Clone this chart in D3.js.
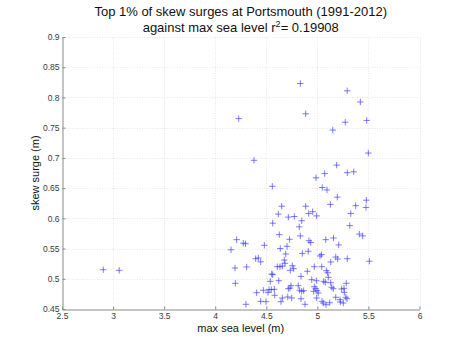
<!DOCTYPE html>
<html><head><meta charset="utf-8">
<script src="https://cdn.jsdelivr.net/npm/d3@7"></script>
<style>body{margin:0;background:#fff}svg{display:block}text{font-family:"Liberation Sans",Arial,sans-serif}</style>
</head><body><div id="c"></div>
<script>
const titleLine1 = "Top 1% of skew surges at Portsmouth (1991-2012)";
const titleLine2 = "against max sea level r";
const rSquared = "0.19908";
const xLabel = "max sea level (m)";
const yLabel = "skew surge (m)";
const xTicks = [2.5, 3, 3.5, 4, 4.5, 5, 5.5, 6];
const yTicks = [0.45, 0.5, 0.55, 0.6, 0.65, 0.7, 0.75, 0.8, 0.85, 0.9];
const seaLevel = [
2.904,3.06,
4.833,5.292,5.421,4.230,4.886,5.273,5.483,5.151,5.499,4.380,5.189,
5.072,5.293,5.356,4.987,4.559,5.048,5.094,5.195,5.479,5.476,5.375,5.127,4.886,4.651,
4.618,4.716,4.774,4.915,4.954,4.993,5.327,4.847,4.563,4.823,5.317,4.627,4.833,5.411,
5.444,4.210,4.275,4.297,4.727,4.918,4.935,5.082,5.158,5.209,
4.155,4.481,4.637,4.703,4.690,4.853,4.911,5.026,5.040,5.180,5.199,5.293,5.131,5.509,
4.396,4.422,4.445,4.676,4.683,4.194,4.308,4.608,4.634,4.657,4.755,4.768,4.735,4.902,
4.970,5.043,5.088,5.101,4.553,4.563,4.840,5.107,4.197,4.539,4.622,4.945,4.990,5.062,
5.078,5.283,4.742,4.732,4.716,4.813,4.827,4.970,4.984,4.997,4.964,5.131,5.141,5.156,
5.238,5.261,5.264,4.847,4.866,5.009,4.710,4.749,4.840,4.993,5.046,5.058,5.180,5.222,
5.225,5.278,5.290,4.879,5.085,5.121,5.254,
4.406,4.471,4.527,4.549,4.579,4.583,4.517,4.657,4.445,4.497,4.644,4.301
];
const skewSurge = [
0.515,0.514,
0.823,0.811,0.7925,0.765,0.773,0.759,0.762,0.746,0.708,0.696,0.688,
0.674,0.6755,0.677,0.667,0.653,0.651,0.647,0.635,0.630,0.618,0.621,0.623,0.620,0.620,
0.607,0.602,0.603,0.608,0.611,0.604,0.608,0.596,0.592,0.586,0.588,0.573,0.571,0.574,
0.571,0.5647,0.559,0.558,0.5653,0.563,0.560,0.5647,0.5675,0.556,
0.548,0.5554,0.550,0.5537,0.541,0.542,0.5455,0.5377,0.540,0.536,0.5327,0.5332,0.5278,0.529,
0.5332,0.5344,0.528,0.531,0.5256,0.5178,0.5195,0.520,0.520,0.521,0.5216,0.5167,0.514,0.5124,
0.520,0.520,0.5134,0.510,0.5079,0.5068,0.504,0.5024,0.4925,0.4958,0.4968,0.4985,0.4968,0.4958,
0.4942,0.4925,0.4886,0.4847,0.4836,0.4886,0.481,0.4869,0.4836,0.4803,0.4793,0.4935,0.4859,0.4836,
0.4831,0.4842,0.4776,0.4793,0.4803,0.4765,0.4699,0.4682,0.467,0.4682,0.4627,0.4599,0.4694,0.4654,
0.4616,0.4694,0.467,0.4578,0.4571,0.4604,0.4599,
0.477,0.481,0.482,0.482,0.4826,0.4727,0.4776,0.4682,0.4627,0.4621,0.4621,0.4578
];

const W = 465, H = 350;
const m = {left: 62, right: 45.5, top: 37, bottom: 41};
const svg = d3.select("#c").append("svg").attr("width", W).attr("height", H);
const x = d3.scaleLinear().domain([2.5, 6]).range([m.left, W - m.right]);
const y = d3.scaleLinear().domain([0.45, 0.9]).range([H - m.bottom, m.top]);

// grid
const grid = svg.append("g").attr("stroke", "#dcdcdc").attr("stroke-width", 0.7).attr("stroke-dasharray", "1,1.5");
grid.selectAll(".gx").data(xTicks.slice(1)).enter().append("line")
  .attr("x1", d => Math.round(x(d)) + 0.5).attr("x2", d => Math.round(x(d)) + 0.5)
  .attr("y1", y(0.45)).attr("y2", y(0.9));
grid.selectAll(".gy").data(yTicks.slice(1)).enter().append("line")
  .attr("y1", d => Math.round(y(d)) + 0.5).attr("y2", d => Math.round(y(d)) + 0.5)
  .attr("x1", x(2.5)).attr("x2", x(6));

// axes
const fmt = d => String(d);
const xAxis = d3.axisBottom(x).tickValues(xTicks).tickFormat(fmt).tickSizeInner(-3).tickSizeOuter(0).tickPadding(3.5);
const yAxis = d3.axisLeft(y).tickValues(yTicks).tickFormat(fmt).tickSizeInner(-3).tickSizeOuter(0).tickPadding(3);
const gx = svg.append("g").attr("transform", `translate(0,${Math.round(y(0.45)) + 0.5})`).call(xAxis);
const gy = svg.append("g").attr("transform", `translate(${Math.round(x(2.5)) + 0.5},0)`).call(yAxis);
[gx, gy].forEach(g => {
  g.select(".domain").attr("stroke", "#8a8a8a");
  g.selectAll(".tick line").attr("stroke", "#8a8a8a");
  g.selectAll(".tick text").attr("fill", "#3a3a3a").style("font-size", "8.5px").style("font-family", '"Liberation Sans",Arial,sans-serif');
});

// points
const pts = seaLevel.map((v, i) => [v, skewSurge[i]]);
const s = 3.2;
svg.append("g").attr("stroke", "#3b3bff").attr("stroke-width", 0.9).attr("stroke-opacity", 0.75)
  .selectAll("path").data(pts).enter().append("path")
  .attr("d", d => {
    const px = x(d[0]), py = y(d[1]);
    return `M${px - s},${py}H${px + s}M${px},${py - s}V${py + s}`;
  });

// labels
const cx = (x(2.5) + x(6)) / 2;
svg.append("text").attr("x", cx).attr("y", 15.5).attr("text-anchor", "middle")
  .style("font-size", "13px").attr("fill", "#111").text(titleLine1);
const t2 = svg.append("text").attr("x", cx).attr("y", 31.5).attr("text-anchor", "middle")
  .style("font-size", "13px").attr("fill", "#111");
t2.append("tspan").text(titleLine2);
t2.append("tspan").attr("dy", -5).style("font-size", "9px").text("2");
t2.append("tspan").attr("dy", 5).text("= " + rSquared);
svg.append("text").attr("x", cx).attr("y", 332).attr("text-anchor", "middle")
  .style("font-size", "11px").attr("fill", "#111").text(xLabel);
svg.append("text").attr("transform", `translate(39,${(y(0.45) + y(0.9)) / 2}) rotate(-90)`)
  .attr("text-anchor", "middle").style("font-size", "11px").attr("fill", "#111").text(yLabel);
</script></body></html>
